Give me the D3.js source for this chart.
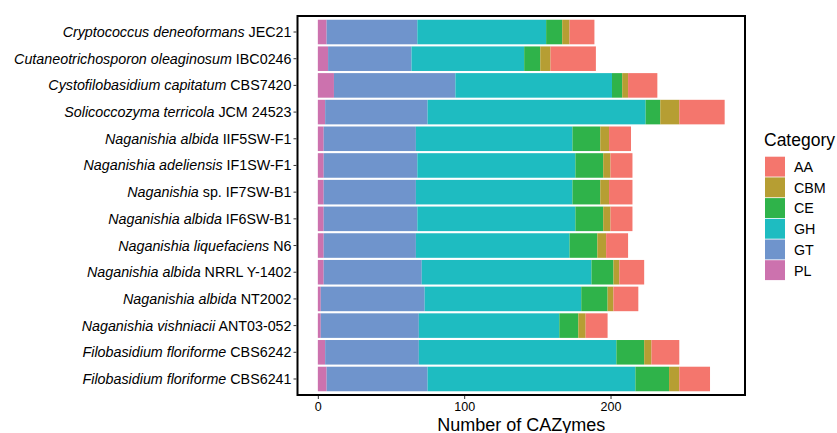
<!DOCTYPE html>
<html>
<head>
<meta charset="utf-8">
<script src="https://cdn.jsdelivr.net/npm/d3@7"></script>
<style>
  body { margin: 0; background: #fff; }
  text { font-family: "Liberation Sans", Arial, sans-serif; fill: #000; }
</style>
</head>
<body>
<script>
// strains, top to bottom: italic species part + plain strain part
var species = ["Cryptococcus deneoformans", "Cutaneotrichosporon oleaginosum", "Cystofilobasidium capitatum",
    "Solicoccozyma terricola", "Naganishia albida", "Naganishia adeliensis", "Naganishia", "Naganishia albida",
    "Naganishia liquefaciens", "Naganishia albida", "Naganishia albida", "Naganishia vishniacii",
    "Filobasidium floriforme", "Filobasidium floriforme"];
var strains = ["JEC21", "IBC0246", "CBS7420", "JCM 24523", "IIF5SW-F1", "IF1SW-F1", "sp. IF7SW-B1", "IF6SW-B1",
    "N6", "NRRL Y-1402", "NT2002", "ANT03-052", "CBS6242", "CBS6241"];

// category stack order, left to right
var categories = ["PL", "GT", "GH", "CE", "CBM", "AA"];
var PL  = [6, 7, 11, 5, 4, 4, 4, 4, 4, 4, 2, 2, 5, 6];
var GT  = [62, 57, 83, 70, 63, 64, 63, 64, 63, 67, 71, 67, 64, 69];
var GH  = [88, 77, 107, 149, 107, 108, 107, 108, 105, 116, 107, 96, 135, 142];
var CE  = [11, 11, 7, 10, 19, 19, 19, 19, 19, 15, 18, 13, 19, 23];
var CBM = [5, 7, 4, 13, 6, 5, 6, 5, 6, 4, 4, 5, 5, 7];
var AA  = [17, 31, 20, 31, 15, 15, 16, 15, 15, 17, 17, 15, 19, 21];
var xTicks = [0, 100, 200];

var colors = {AA: "#F4766D", CBM: "#B69E33", CE: "#2FB34A", GH: "#1EBCC1", GT: "#6F94CC", PL: "#CC72AE"};
var legendOrder = ["AA", "CBM", "CE", "GH", "GT", "PL"];

var width = 837, height = 433;
var panelLeft = 297.5, panelRight = 745, panelTop = 16, panelBottom = 395;

var svg = d3.select("body").append("svg")
    .attr("width", width)
    .attr("height", height);

var rows = strains.map(function(s, i){
    return {id: i, PL: PL[i], GT: GT[i], GH: GH[i], CE: CE[i], CBM: CBM[i], AA: AA[i]};
});

var stacked = d3.stack().keys(categories)(rows);
var maxTotal = d3.max(stacked[stacked.length - 1], function(d){ return d[1]; });
var pad = maxTotal * 0.05;

var x = d3.scaleLinear()
    .domain([-pad, maxTotal + pad])
    .range([panelLeft, panelRight]);

var y = d3.scaleBand()
    .domain(d3.range(strains.length))
    .range([panelTop, panelBottom])
    .paddingInner(0.08)
    .paddingOuter(0.14);

//bars
svg.append("g").selectAll("g")
    .data(stacked)
    .enter()
    .append("g")
    .attr("fill", function(d){ return colors[d.key]; })
    .selectAll("rect")
    .data(function(d){ return d; })
    .enter()
    .append("rect")
    .attr("x", function(d){ return x(d[0]); })
    .attr("width", function(d){ return x(d[1]) - x(d[0]); })
    .attr("y", function(d){ return y(d.data.id); })
    .attr("height", y.bandwidth());

//panel border
svg.append("rect")
    .attr("x", panelLeft)
    .attr("y", panelTop)
    .attr("width", panelRight - panelLeft)
    .attr("height", panelBottom - panelTop)
    .attr("fill", "none")
    .attr("stroke", "#000")
    .attr("stroke-width", 2);

//x axis
var xAxis = svg.append("g")
    .attr("transform", "translate(0," + (panelBottom + 1) + ")")
    .call(d3.axisBottom(x).tickValues(xTicks).tickSize(3).tickPadding(3));
xAxis.select(".domain").remove();
xAxis.selectAll("line").attr("stroke", "#333");
xAxis.selectAll("text").attr("font-size", 12.5).attr("fill", "#000")
    .style("font-family", "Liberation Sans, Arial, sans-serif");

svg.append("text")
    .attr("x", (panelLeft + panelRight) / 2)
    .attr("y", 430.5)
    .attr("text-anchor", "middle")
    .attr("font-size", 18)
    .text("Number of CAZymes");

//y axis ticks and labels
var yAxis = svg.append("g");
yAxis.selectAll("line")
    .data(strains)
    .enter()
    .append("line")
    .attr("x1", panelLeft - 4)
    .attr("x2", panelLeft - 1)
    .attr("y1", function(d, i){ return y(i) + y.bandwidth() / 2; })
    .attr("y2", function(d, i){ return y(i) + y.bandwidth() / 2; })
    .attr("stroke", "#333");

var labels = yAxis.selectAll("text")
    .data(strains)
    .enter()
    .append("text")
    .attr("x", panelLeft - 6)
    .attr("y", function(d, i){ return y(i) + y.bandwidth() / 2; })
    .attr("dy", "0.35em")
    .attr("text-anchor", "end")
    .attr("font-size", 14.3);
labels.append("tspan")
    .attr("font-style", "italic")
    .text(function(d, i){ return species[i]; });
labels.append("tspan")
    .text(function(d){ return " " + d; });

//legend
var legend = svg.append("g");
legend.append("text")
    .attr("x", 764)
    .attr("y", 146)
    .attr("font-size", 17.5)
    .text("Category");

var keySize = 20.7;
var keys = legend.selectAll(".key")
    .data(legendOrder)
    .enter()
    .append("g")
    .attr("class", "key")
    .attr("transform", function(d, i){ return "translate(765," + (156.7 + i * keySize) + ")"; });
keys.append("rect")
    .attr("width", 20)
    .attr("height", keySize - 0.8)
    .attr("fill", function(d){ return colors[d]; });
keys.append("text")
    .attr("x", 29)
    .attr("y", keySize / 2)
    .attr("dy", "0.35em")
    .attr("font-size", 14.3)
    .text(function(d){ return d; });
</script>
</body>
</html>
